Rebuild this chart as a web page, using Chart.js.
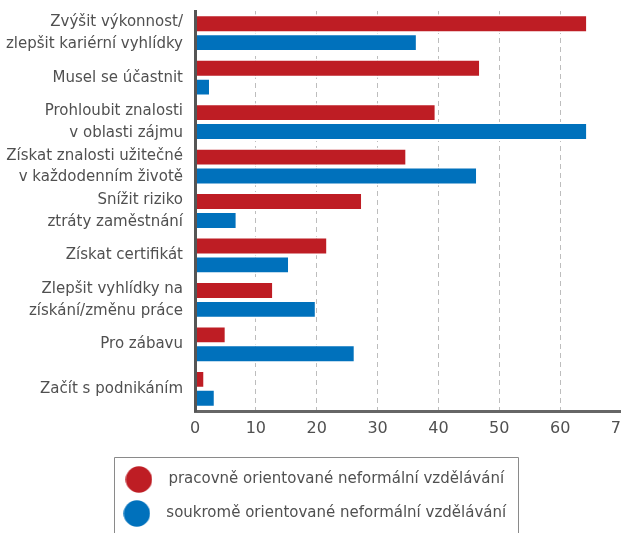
<!DOCTYPE html>
<html>
<head>
<meta charset="utf-8">
<script src="https://cdn.jsdelivr.net/npm/chart.js@4/dist/chart.umd.min.js"></script>
<style>
    html, body { margin: 0; padding: 0; background: #fff; overflow: hidden; }
    #wrap { width: 621px; height: 533px; position: relative; }
</style>
</head>
<body>
<div id="wrap"><canvas id="motivChart"></canvas></div>
<script>
// Data
const categories = [
    ['Zvýšit výkonnost/', 'zlepšit kariérní vyhlídky'],
    'Musel se účastnit',
    ['Prohloubit znalosti', 'v oblasti zájmu'],
    ['Získat znalosti užitečné', 'v každodenním životě'],
    ['Snížit riziko', 'ztráty zaměstnání'],
    'Získat certifikát',
    ['Zlepšit vyhlídky na', 'získání/změnu práce'],
    'Pro zábavu',
    'Začít s podnikáním'
];
const workValues = [64.3, 46.7, 39.4, 34.6, 27.3, 21.6, 12.7, 4.9, 1.4];
const privateValues = [36.3, 2.3, 64.3, 46.2, 6.7, 15.3, 19.7, 26.1, 3.1];
const seriesNames = [
    'pracovně orientované neformální vzdělávání',
    'soukromě orientované neformální vzdělávání'
];
const xTicks = [0, 10, 20, 30, 40, 50, 60, 70];

const RED = '#be1d24';
const BLUE = '#0071bc';
const TEXT = '#505050';
const FONT = '"DejaVu Sans", sans-serif';

function circleImage(color) {
    const c = document.createElement('canvas');
    c.width = 27;
    c.height = 27;
    const g = c.getContext('2d');
    g.fillStyle = color;
    g.beginPath();
    g.arc(13.5, 13.5, 13.2, 0, Math.PI * 2);
    g.fill();
    return c;
}
const legendDots = [circleImage(RED), circleImage(BLUE)];

// thin grey frame around the legend (runs off the bottom like the original)
const legendFrame = {
    id: 'legendFrame',
    afterDraw(chart) {
        const boxes = chart.legend.legendHitBoxes;
        if (!boxes || !boxes.length) return;
        let left = Infinity, right = -Infinity;
        boxes.forEach(b => {
            left = Math.min(left, b.left);
            right = Math.max(right, b.left + b.width);
        });
        const ctx = chart.ctx;
        ctx.save();
        ctx.strokeStyle = '#8a8a8a';
        ctx.lineWidth = 1;
        ctx.beginPath();
        const top = Math.round(chart.legend.top) + 4.5;
        const l = Math.round(left) - 0.5;
        const r = Math.round(right) + 12.5;
        ctx.moveTo(l, chart.height + 5);
        ctx.lineTo(l, top);
        ctx.lineTo(r, top);
        ctx.lineTo(r, chart.height + 5);
        ctx.stroke();
        ctx.restore();
    }
};

const ctx = document.getElementById('motivChart');
new Chart(ctx, {
    type: 'bar',
    data: {
        labels: categories,
        datasets: [
            {
                label: seriesNames[0],
                data: workValues,
                backgroundColor: RED,
                borderColor: '#ffffff',
                borderWidth: { top: 2, bottom: 2, left: 0, right: 0 },
                borderSkipped: 'start'
            },
            {
                label: seriesNames[1],
                data: privateValues,
                backgroundColor: BLUE,
                borderColor: '#ffffff',
                borderWidth: { top: 2, bottom: 2, left: 0, right: 0 },
                borderSkipped: 'start'
            }
        ]
    },
    options: {
        indexAxis: 'y',
        responsive: true,
        maintainAspectRatio: false,
        animation: false,
        categoryPercentage: 0.85,
        barPercentage: 1,
        layout: { padding: { top: 11, bottom: 2, left: 0, right: 0 } },
        plugins: {
            tooltip: { enabled: false },
            legend: {
                position: 'bottom',
                align: 'center',
                labels: {
                    color: TEXT,
                    font: { family: FONT, size: 15 },
                    usePointStyle: true,
                    pointStyleWidth: 44,
                    padding: 19,
                    generateLabels(chart) {
                        const items = Chart.defaults.plugins.legend.labels.generateLabels(chart);
                        items.forEach((it, i) => { it.pointStyle = legendDots[i]; });
                        return items;
                    }
                }
            }
        },
        scales: {
            x: {
                min: 0,
                max: 70,
                afterBuildTicks(scale) {
                    scale.ticks = xTicks.map(v => ({ value: v }));
                },
                afterFit(scale) {
                    scale.paddingRight = 0;
                    scale.paddingLeft = 0;
                    scale.height = 42;
                },
                grid: {
                    drawTicks: false,
                    color: c => (c.tick && c.tick.value === 0) ? 'rgba(0,0,0,0)' : '#bdbdbd',
                    lineWidth: 1
                },
                border: { display: true, color: '#666666', width: 3, dash: [5, 4], z: 1 },
                ticks: {
                    color: TEXT,
                    padding: 8,
                    autoSkip: false,
                    maxRotation: 0,
                    font: { family: FONT, size: 16 }
                }
            },
            y: {
                afterFit(scale) {
                    scale.width = 195;
                    scale.paddingTop = 0;
                    scale.paddingBottom = 0;
                },
                grid: { display: false, drawTicks: false },
                border: { display: true, color: '#555555', width: 3, z: 1 },
                ticks: {
                    color: TEXT,
                    padding: 12,
                    autoSkip: false,
                    font: { family: FONT, size: 15, lineHeight: 1.45 }
                }
            }
        }
    },
    plugins: [legendFrame]
});
</script>
</body>
</html>
